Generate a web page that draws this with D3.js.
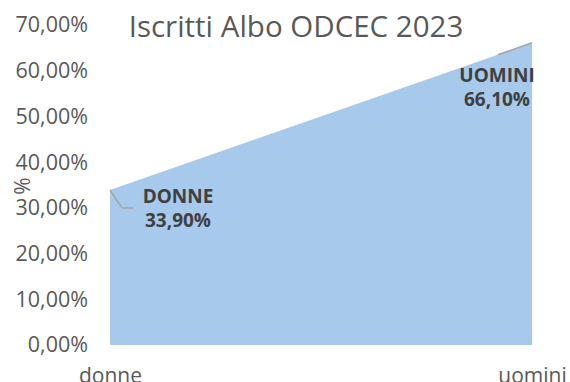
<!DOCTYPE html>
<html>
<head>
<meta charset="utf-8">
<script src="https://cdn.jsdelivr.net/npm/d3@7"></script>
<style>
  body { margin: 0; background: #fff; overflow: hidden; }
  text { font-family: "Open Sans", "Noto Sans", sans-serif; }
</style>
</head>
<body>
<div id="chart"></div>
<script>
var categories = ["donne", "uomini"];
var values = [0.339, 0.661];
var labelNames = ["DONNE", "UOMINI"];
var yTicks = [0, 0.1, 0.2, 0.3, 0.4, 0.5, 0.6, 0.7];

var svgWidth = 570;
var svgHeight = 382;

var svg = d3.select("#chart")
    .append("svg")
    .attr("width", svgWidth)
    .attr("height", svgHeight);

var x = d3.scalePoint()
    .domain(categories)
    .range([110, 532]);

var y = d3.scaleLinear()
    .domain([0, 0.7])
    .range([345, 25]);

var fmt = function (v) {
    return (v * 100).toFixed(2).replace(".", ",") + "%";
};

// area
var area = d3.area()
    .x(function (d, i) { return x(categories[i]); })
    .y0(y(0))
    .y1(function (d) { return y(d); });

svg.append("path")
    .datum(values)
    .attr("d", area)
    .attr("fill", "#a6c9ec");

// y axis labels
var leftAxis = d3.axisLeft(y)
    .tickValues(yTicks)
    .tickFormat(fmt)
    .tickSize(0)
    .tickPadding(0);

var yAxis = svg.append("g")
    .attr("transform", "translate(88,0)")
    .call(leftAxis);
yAxis.select(".domain").remove();
yAxis.selectAll("text")
    .attr("font-size", "21.5px")
    .attr("fill", "#595959")
    .style("font-family", "'Open Sans', sans-serif");

// x axis labels
var bottomAxis = d3.axisBottom(x).tickSize(0).tickPadding(0);
var xAxis = svg.append("g")
    .call(bottomAxis);
xAxis.select(".domain").remove();
xAxis.selectAll("text")
    .attr("y", 383)
    .attr("dy", null)
    .attr("font-size", "21px")
    .attr("fill", "#595959")
    .style("font-family", "'Open Sans', sans-serif");

// y axis title
svg.append("text")
    .attr("transform", "translate(30,186) rotate(-90)")
    .attr("text-anchor", "middle")
    .attr("font-size", "21px")
    .attr("fill", "#595959")
    .text("%");

// chart title
svg.append("text")
    .attr("x", 296)
    .attr("y", 37)
    .attr("text-anchor", "middle")
    .attr("font-size", "29.5px")
    .attr("fill", "#595959")
    .text("Iscritti Albo ODCEC 2023");

// data labels with leader lines
var labelPos = [
    { dx: 68, dy: 13 },
    { dx: -35, dy: 39 }
];

values.forEach(function (v, i) {
    var px = x(categories[i]);
    var py = y(v);
    var lx = px + labelPos[i].dx;
    var ly = py + labelPos[i].dy;

    var pts;
    if (i === 0) {
        pts = [[px, py], [px + 12, py + 18], [px + 24, py + 18]];
    } else {
        pts = [[px, py], [px - 34, py + 12]];
    }
    svg.append("path")
        .attr("d", d3.line()(pts))
        .attr("fill", "none")
        .attr("stroke", "#a5a5a5")
        .attr("stroke-width", 1.5);

    svg.append("text")
        .attr("x", lx)
        .attr("y", ly)
        .attr("text-anchor", "middle")
        .attr("font-size", "19px")
        .attr("font-weight", "bold")
        .attr("fill", "#404040")
        .text(labelNames[i]);

    svg.append("text")
        .attr("x", lx)
        .attr("y", ly + 24)
        .attr("text-anchor", "middle")
        .attr("font-size", "19px")
        .attr("font-weight", "bold")
        .attr("fill", "#404040")
        .text(fmt(v));
});
</script>
</body>
</html>
